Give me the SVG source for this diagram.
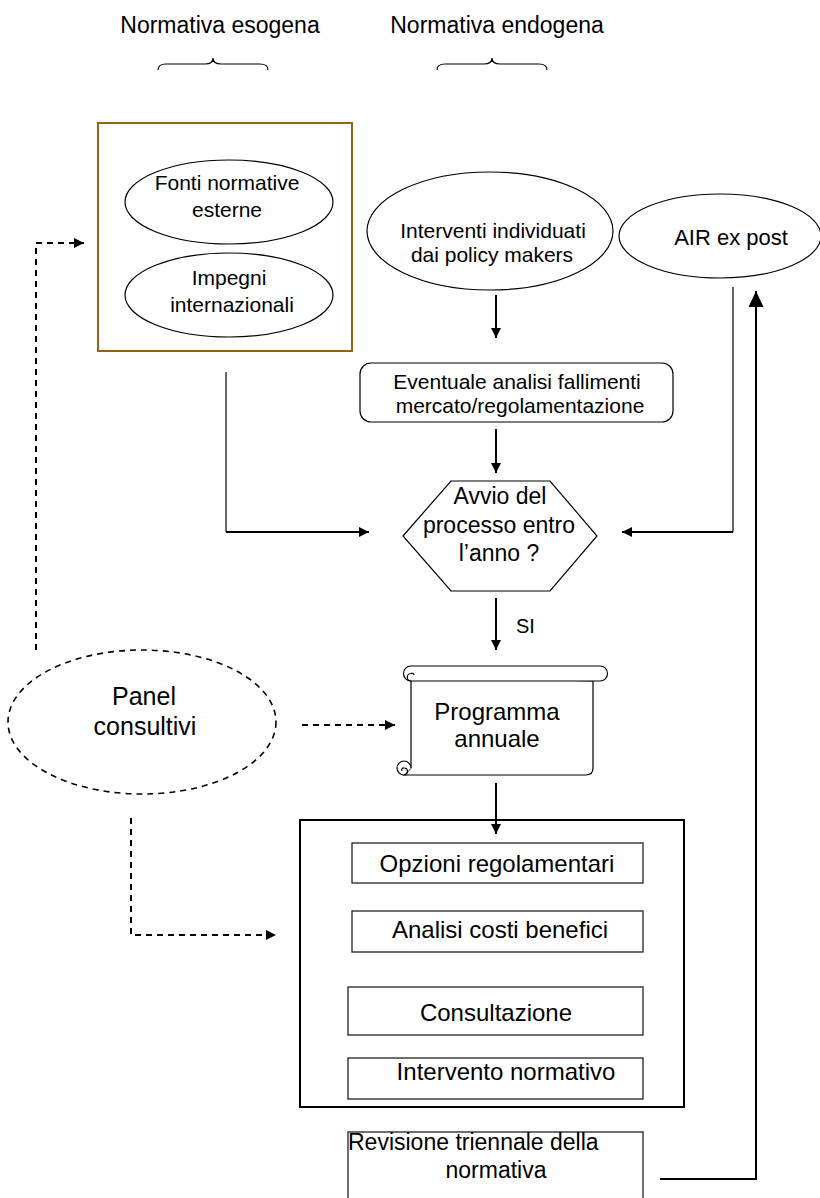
<svg xmlns="http://www.w3.org/2000/svg" width="820" height="1198" viewBox="0 0 820 1198">
<style>
text{font-family:"Liberation Sans",Arial,sans-serif;fill:#000}
.t21{font-size:21px;text-anchor:middle}
.t23{font-size:23px;text-anchor:middle}
.t24{font-size:24px;text-anchor:middle}
.shape{fill:#fff;stroke:#000;stroke-width:1.2}
.box{fill:#fff;stroke:#222;stroke-width:1.3}
.ln{fill:none;stroke:#000;stroke-width:1.2}
.ln2{fill:none;stroke:#000;stroke-width:2}
.dash{fill:none;stroke:#000;stroke-width:2;stroke-dasharray:6 5}
</style>
<defs>
<marker id="ah" viewBox="0 0 10 10" refX="10" refY="5" markerWidth="10" markerHeight="10" markerUnits="userSpaceOnUse" orient="auto"><path d="M0,0 L10,5 L0,10 Z" fill="#000"/></marker>
<marker id="ahb" viewBox="0 0 16 15" refX="16" refY="7.5" markerWidth="16" markerHeight="15" markerUnits="userSpaceOnUse" orient="auto"><path d="M0,0 L16,7.5 L0,15 Z" fill="#000"/></marker>
</defs>

<g id="titles">
<text class="t23" x="220" y="33">Normativa esogena</text>
<text class="t23" x="497" y="33">Normativa endogena</text>
<path class="ln" d="M158,70 Q158,64 166,64 L205,64 Q213,64 213,58 Q213,64 221,64 L260,64 Q268,64 268,70"/>
<path class="ln" d="M437,70 Q437,64 445,64 L484,64 Q492,64 492,58 Q492,64 500,64 L539,64 Q547,64 547,70"/>
</g>

<g id="esogena-box">
<rect x="98" y="123" width="254" height="228" fill="#fff" stroke="#9a6214" stroke-width="2"/>
</g>
<g id="fonti">
<ellipse class="shape" cx="229" cy="202" rx="104" ry="42"/>
<text class="t21" x="227" y="190">Fonti normative</text>
<text class="t21" x="227" y="217">esterne</text>
</g>
<g id="impegni">
<ellipse class="shape" cx="229" cy="295" rx="104" ry="42"/>
<text class="t21" x="229" y="285">Impegni</text>
<text class="t21" x="232" y="312">internazionali</text>
</g>

<g id="interventi">
<ellipse class="shape" cx="490" cy="231" rx="123" ry="59"/>
<text class="t21" x="493" y="238">Interventi individuati</text>
<text class="t21" x="492" y="262">dai policy makers</text>
</g>

<g id="air">
<ellipse class="shape" cx="720" cy="236" rx="101" ry="42"/>
<text font-size="22" text-anchor="middle" x="731" y="245">AIR ex post</text>
</g>

<g id="eventuale">
<rect class="shape" x="360" y="363" width="313" height="59" rx="11"/>
<text class="t21" x="517" y="389">Eventuale analisi fallimenti</text>
<text class="t21" x="520" y="413">mercato/regolamentazione</text>
</g>

<g id="avvio">
<polygon class="shape" points="403,536 451,481 550,481 597,536 550,591 451,591"/>
<text class="t23" x="500" y="504">Avvio del</text>
<text class="t23" x="499" y="533">processo entro</text>
<text class="t23" x="499" y="561">l’anno ?</text>
</g>

<g id="programma">
<path class="shape" d="M411,676 L411,768 L404,775 L586,775 Q593,775 593,768 L593,681 Z"/>
<path class="shape" d="M411,666 L600,666 A7.5,7.5 0 0 1 600,681 L411,681 A7.5,7.5 0 0 1 411,666 Z"/>
<path class="ln" d="M411,681 A3.75,3.75 0 0 1 411,673.5 A2,2 0 0 1 414,675"/>
<path class="shape" d="M411,768 A7,7 0 1 0 404,775"/>
<path class="ln" d="M404,768 A3.5,3.5 0 0 1 404,775 M404,768 A2,2 0 0 0 402,771"/>
<text class="t24" x="497" y="720">Programma</text>
<text class="t24" x="497" y="747">annuale</text>
</g>

<g id="panel">
<ellipse cx="142" cy="722" rx="134" ry="72" fill="none" stroke="#000" stroke-width="1.6" stroke-dasharray="6 5"/>
<text font-size="25" text-anchor="middle" x="144" y="705">Panel</text>
<text font-size="25" text-anchor="middle" x="145" y="735">consultivi</text>
</g>

<g id="processo">
<rect x="300" y="820" width="384" height="287" fill="#fff" stroke="#000" stroke-width="2"/>
</g>
<g id="opzioni">
<rect class="box" x="352" y="843" width="291" height="40"/>
<text class="t24" x="497" y="872">Opzioni regolamentari</text>
</g>
<g id="analisi">
<rect class="box" x="352" y="911" width="291" height="41"/>
<text class="t24" x="500" y="938">Analisi costi benefici</text>
</g>
<g id="consultazione">
<rect class="box" x="348" y="987" width="295" height="48"/>
<text class="t24" x="496" y="1021">Consultazione</text>
</g>
<g id="intervento">
<rect class="box" x="348" y="1058" width="295" height="41"/>
<text class="t24" x="506" y="1080">Intervento normativo</text>
</g>

<g id="revisione">
<rect class="box" x="348" y="1132" width="295" height="80"/>
<text font-size="23" x="348" y="1150">Revisione triennale della</text>
<text font-size="23" text-anchor="middle" x="496" y="1178">normativa</text>
</g>

<g id="connectors">
<line class="ln2" x1="496" y1="295" x2="496" y2="338" marker-end="url(#ah)"/>
<line class="ln2" x1="496" y1="429" x2="496" y2="473" marker-end="url(#ah)"/>
<line class="ln2" x1="496" y1="598" x2="496" y2="650" marker-end="url(#ah)"/>
<text font-size="20" x="516" y="633">SI</text>
<line class="ln2" x1="496" y1="783" x2="496" y2="834" marker-end="url(#ah)"/>
<path class="ln" d="M226,372 L226,532"/>
<line class="ln2" x1="226" y1="532" x2="369" y2="532" marker-end="url(#ah)"/>
<path class="ln" d="M733,287 L733,532"/>
<line class="ln2" x1="733" y1="532" x2="622" y2="532" marker-end="url(#ah)"/>
<path class="ln2" d="M660,1179 L756,1179 L756,291" marker-end="url(#ahb)"/>
<path class="dash" d="M36,650 L36,243 L84,243" marker-end="url(#ah)"/>
<line class="dash" x1="302" y1="725" x2="395" y2="725" marker-end="url(#ah)"/>
<path class="dash" d="M131,818 L131,935 L276,935" marker-end="url(#ah)"/>
</g>
</svg>
